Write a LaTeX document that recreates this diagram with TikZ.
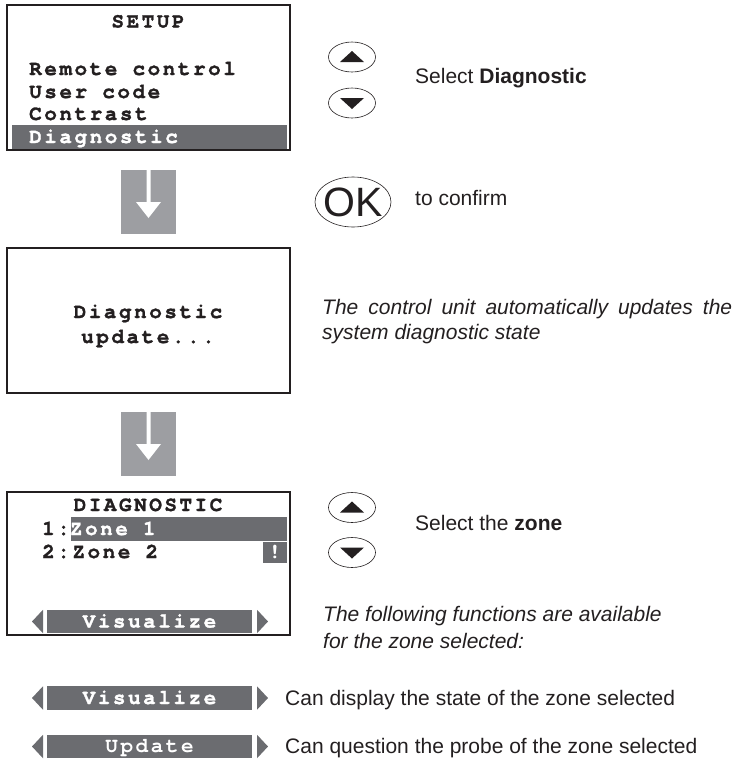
\documentclass[tikz,border=0pt]{standalone}
\usepackage{fontspec}
\setmainfont{Liberation Sans}
\newfontfamily\lcdfont[LetterSpace=12, FakeBold=1.4]{texgyrecursor-bold.otf}
\newfontfamily\lcdlight[LetterSpace=12]{texgyrecursor-bold.otf}
\usetikzlibrary{shapes.geometric}

% Soft key bar: #1 centre y, #2 node name, #3 label
\newcommand{\softKey}[3]{%
    \fill[barColour] (32,#1) -- (43,{#1-11.75}) -- (43,{#1+11.75}) -- cycle;
    \fill[barColour] (47,{#1-11.75}) rectangle (252,{#1+11.75});
    \fill[barColour] (268,#1) -- (257,{#1-11.75}) -- (257,{#1+11.75}) -- cycle;
    \node[lcdwhite, anchor=base] (#2) at (149.5,{#1+6}) {#3};
}

\begin{document}
\begin{tikzpicture}[x=1pt, y=-1pt,
    lcd/.style={font=\lcdfont\fontsize{21}{21}\selectfont, inner sep=0pt, text=lineColour},
    lcdwhite/.style={lcd, text=white},
    body/.style={font=\fontsize{21}{25}\selectfont, inner sep=0pt, anchor=base west, text=lineColour},
    note/.style={body, font=\fontsize{21}{25}\selectfont\itshape},
    screen/.style={draw=lineColour, line width=1.3pt},
    button/.style={ellipse, draw=lineColour, line width=0.6pt, inner sep=0pt}]
    % Define colours
    \definecolor{lineColour}{HTML}{231F20}
    \definecolor{barColour}{HTML}{6B6C70}
    \definecolor{arrowColour}{HTML}{9D9EA2}

    \useasboundingbox (0,0) rectangle (736,761);

    % Screen 1: setup menu
    \draw[screen] (7,5) rectangle (290,150);
    \fill[barColour] (12,125) rectangle (287,148.5);
    \node[lcd, anchor=base] (setupTitle) at (148,27.5) {SETUP};
    \foreach \txt/\yy [count=\i] in {Remote control/75, User code/98, Contrast/120}
        \node[lcd, anchor=base west] (setupItem\i) at (29,\yy) {\txt};
    \node[lcdwhite, anchor=base west] (setupDiag) at (29,143) {Diagnostic};

    % Screen 2: update message
    \draw[screen] (7,248) rectangle (290,393);
    \node[lcd, anchor=base] (updLineA) at (148,318) {Diagnostic};
    \node[lcd, anchor=base] (updLineB) at (148,343) {update...};

    % Screen 3: diagnostic zones
    \draw[screen] (7,492) rectangle (290,635);
    \fill[barColour] (71,517) rectangle (287,541);
    \fill[barColour] (263,542) rectangle (287,563);
    \node[lcd, anchor=base] (diagTitle) at (148,511) {DIAGNOSTIC};
    \node[lcd, anchor=base west] (zoneOne) at (42,535) {1:\textcolor{white}{Zone 1}};
    \node[lcd, anchor=base west] (zoneTwo) at (42,558) {2:Zone 2};
    \node[lcdwhite, anchor=base, font=\lcdlight\fontsize{21}{21}\selectfont] (zoneAlarm) at (275,558) {!};
    \softKey{621.5}{diagKey}{Visualize}

    % Step arrows between the screens
    \foreach \ay in {170,412} {
        \fill[arrowColour] (121,\ay) rectangle (176,{\ay+64});
        \fill[white] (146.5,\ay) -- (146.5,{\ay+32}) -- (136,{\ay+32}) -- (148.5,{\ay+48})
            -- (161,{\ay+32}) -- (150.5,{\ay+32}) -- (150.5,\ay) -- cycle;
    }

    % Up and down buttons
    \foreach \by/\nm in {57/upA, 507.5/upB} {
        \node[button, minimum width=47, minimum height=30] (\nm) at (352,\by) {};
        \fill[lineColour] (340,{\by+5}) -- (364,{\by+5}) -- (352,{\by-6}) -- cycle;
    }
    \foreach \by/\nm in {103/downA, 552.5/downB} {
        \node[button, minimum width=47, minimum height=30] (\nm) at (352,\by) {};
        \fill[lineColour] (340,{\by-5}) -- (364,{\by-5}) -- (352,{\by+6}) -- cycle;
    }
    \node[button, minimum width=76, minimum height=50] (okKey) at (353,202) {};
    \node[font=\fontsize{41}{41}\selectfont, text=lineColour, inner sep=0pt] (okLabel) at (okKey) {OK};

    % Explanations
    \node[body] (selDiag) at (415,83) {Select \textbf{Diagnostic}};
    \node[body] (confirm) at (415,205) {to confirm};
    \node[note] (updNoteA) at (322,314) {\makebox[410pt][s]{The control unit automatically updates the}};
    \node[note] (updNoteB) at (322,339) {system diagnostic state};
    \node[body] (selZone) at (415,530) {Select the \textbf{zone}};
    \node[note] (funcNoteA) at (323,621) {The following functions are available};
    \node[note] (funcNoteB) at (323,648) {for the zone selected:};

    % Function keys
    \softKey{698}{visKey}{Visualize}
    \softKey{746.5}{updKey}{\lcdlight Update}
    \node[body] (visText) at (285,705) {Can display the state of the zone selected};
    \node[body] (updText) at (285,753) {Can question the probe of the zone selected};

\end{tikzpicture}
\end{document}
